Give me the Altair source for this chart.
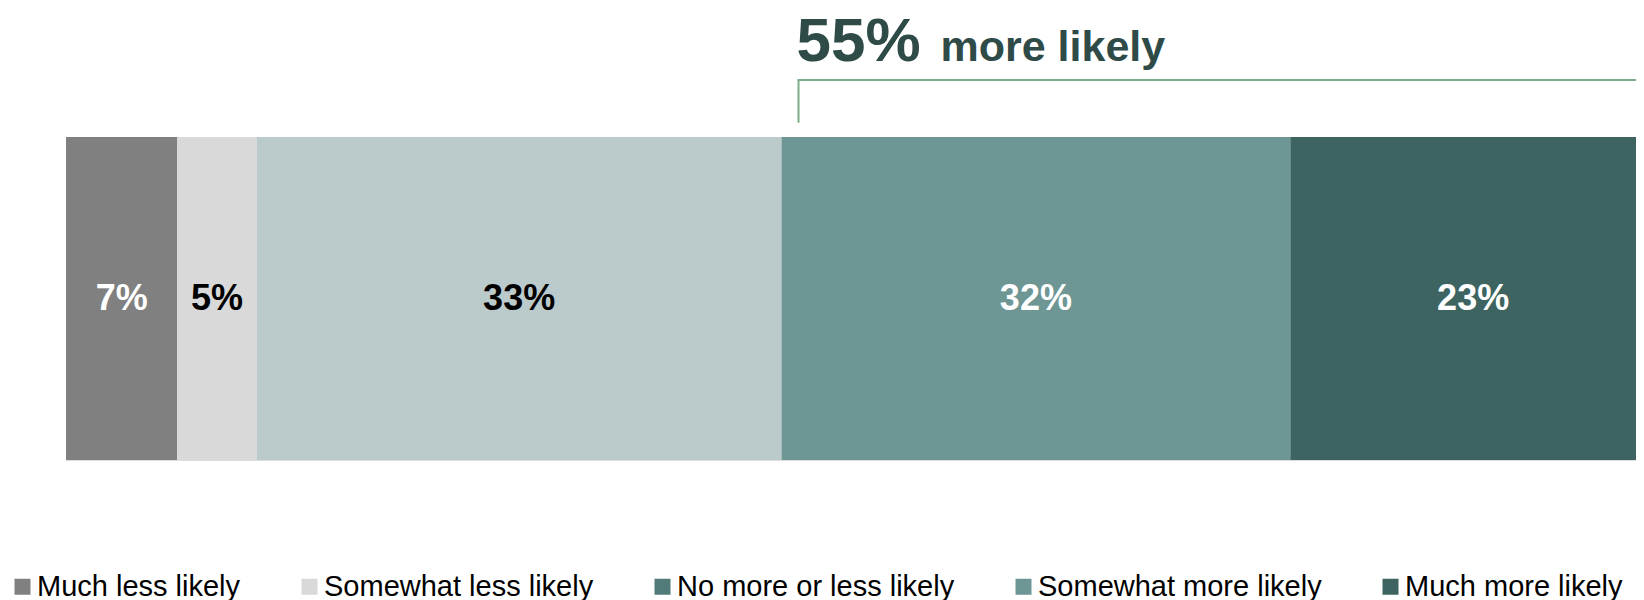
import altair as alt
import pandas as pd

# ---- data ----
categories = ["Much less likely", "Somewhat less likely", "No more or less likely",
              "Somewhat more likely", "Much more likely"]
values = [7, 5, 33, 32, 23]
labels = ["7%", "5%", "33%", "32%", "23%"]
more_categories = ["Somewhat more likely", "Much more likely"]
annotation_text = "more likely"

# ---- styles ----
FONT = "Liberation Sans, Arial, Helvetica, sans-serif"
bar_colors = ["#808080", "#d9d9d9", "#bbcaca", "#6d9694", "#3d6461"]
legend_colors = ["#808080", "#d9d9d9", "#527a78", "#6d9694", "#3d6461"]
dark_segments = ["Much less likely", "Somewhat more likely", "Much more likely"]
GREEN = "#7dad88"
DARK = "#2e4b48"

df = pd.DataFrame({
    "category": categories,
    "value": values,
    "label": labels,
    "idx": list(range(len(categories))),
    "row": ["all"] * len(categories),
})

more_start = sum(v for c, v in zip(categories, values) if c not in more_categories)
more_total = sum(v for c, v in zip(categories, values) if c in more_categories)
ann = pd.DataFrame({
    "start": [more_start],
    "end": [sum(values)],
    "pct": [f"{round(more_total)}%"],
    "txt": [annotation_text],
})

xscale = alt.Scale(domain=[0, 100], nice=False, zero=True)
yenc = alt.Y("row:N", axis=None, scale=alt.Scale(paddingInner=0, paddingOuter=0))

base = (
    alt.Chart(df)
    .transform_window(end="sum(value)", sort=[alt.SortField("idx")], frame=[None, 0])
    .transform_calculate(start="datum.end - datum.value", mid="datum.end - datum.value / 2")
)

bars = base.mark_bar(strokeWidth=0).encode(
    x=alt.X("start:Q", scale=xscale, axis=None),
    x2="end:Q",
    y=yenc,
    fill=alt.Fill("idx:O", scale=alt.Scale(range=bar_colors), legend=None),
)

bar_labels = base.mark_text(font=FONT, fontSize=36, fontWeight="bold", baseline="middle").encode(
    x=alt.X("mid:Q", scale=xscale, axis=None),
    y=yenc,
    text="label:N",
    color=alt.condition(
        alt.FieldOneOfPredicate(field="category", oneOf=dark_segments),
        alt.value("white"),
        alt.value("black"),
    ),
)

legend_layer = base.mark_square(size=0, opacity=1).encode(
    x=alt.X("mid:Q", scale=xscale, axis=None),
    y=yenc,
    color=alt.Color(
        "category:N",
        scale=alt.Scale(domain=categories, range=legend_colors),
        legend=alt.Legend(
            title=None, orient="none", legendX=-58, legendY=435, direction="horizontal",
            symbolType="square", symbolSize=256, symbolOpacity=1, symbolStrokeWidth=0,
            labelFont=FONT, labelFontSize=29, labelColor="black", labelOffset=0,
            columnPadding=54, labelLimit=500,
        ),
    ),
)

ann_base = alt.Chart(ann)
bracket_v = ann_base.mark_rule(color=GREEN, strokeWidth=2, xOffset=17, strokeCap="round").encode(
    x=alt.X("start:Q", scale=xscale, axis=None),
    y=alt.value(-57),
    y2=alt.value(-15),
)
bracket_h = ann_base.mark_rule(color=GREEN, strokeWidth=2, xOffset=17, strokeCap="round").encode(
    x=alt.X("start:Q", scale=xscale, axis=None),
    x2="end:Q",
    y=alt.value(-57),
)
pct_text = ann_base.mark_text(font=FONT, fontSize=62, fontWeight="bold", color=DARK,
                              align="left", baseline="alphabetic", dx=15).encode(
    x=alt.X("start:Q", scale=xscale, axis=None),
    y=alt.value(-76),
    text="pct:N",
)
more_text = ann_base.mark_text(font=FONT, fontSize=43, fontWeight="bold", color=DARK,
                               align="left", baseline="alphabetic", dx=159).encode(
    x=alt.X("start:Q", scale=xscale, axis=None),
    y=alt.value(-76),
    text="txt:N",
)

chart = (
    alt.layer(bars, bar_labels, legend_layer, bracket_v, bracket_h, pct_text, more_text)
    .properties(
        width=1590, height=323,
        padding={"left": 58, "top": 129, "right": -20, "bottom": 140},
        autosize=alt.AutoSizeParams(type="none"),
    )
    .configure_view(stroke=None)
    .configure(background="white")
)

chart.save("out.html", embed_options={"renderer": "svg", "actions": False})
